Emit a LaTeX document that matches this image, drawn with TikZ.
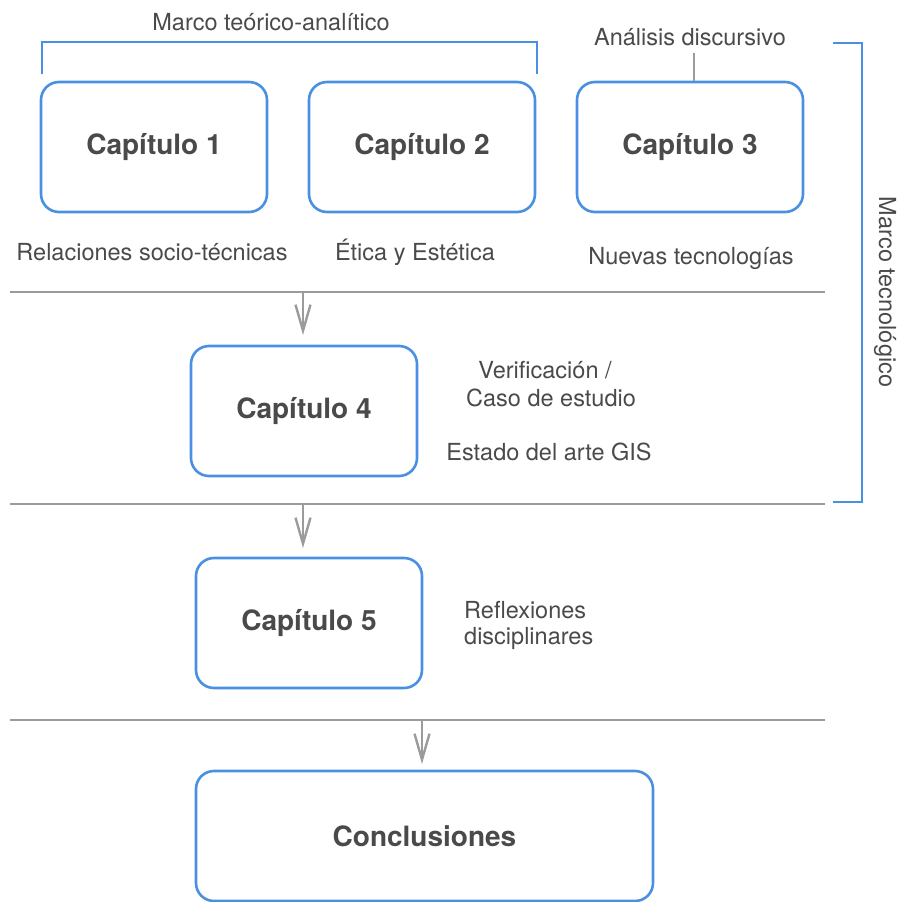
\documentclass[tikz,border=0pt]{standalone}
\usepackage{fontspec}
\setmainfont{TeX Gyre Heros}
\usetikzlibrary{arrows.meta}
\definecolor{boxblue}{HTML}{4A90E2}
\definecolor{rulegray}{HTML}{9B9B9B}
\definecolor{txt}{HTML}{4A4A4A}
\begin{document}
\begin{tikzpicture}[x=1pt,y=-1pt,
  chap/.style={draw=boxblue,line width=2.6pt,rounded corners=18pt,minimum width=226pt,minimum height=130pt,
    text=txt,font=\fontsize{28}{32}\selectfont\bfseries,inner sep=0pt},
  note/.style={text=txt,font=\fontsize{23.5}{28}\selectfont,inner sep=0pt},
  brace/.style={draw=boxblue,line width=2.6pt},
  divider/.style={draw=rulegray,line width=2.4pt},
  flow/.style={draw=rulegray,line width=2.4pt,-{Straight Barb[length=26pt,width=15pt,line width=2.4pt]}}]
\useasboundingbox (0,0) rectangle (901,902);

% chapter boxes
\node[chap] (c1) at (154,147) {Capítulo 1};
\node[chap] (c2) at (422,147) {Capítulo 2};
\node[chap] (c3) at (690,147) {Capítulo 3};
\node[chap] (c4) at (304,411) {Capítulo 4};
\node[chap] (c5) at (309,623) {Capítulo 5};
\node[chap,minimum width=457pt] (cc) at (424.5,836) {Conclusiones};

% theoretical frame bracket
\coordinate (tl) at (42,74);
\coordinate (tr) at (537,74);
\draw[brace] (tl) -- (42,42) -- (537,42) -- (tr);
\node[note] (mta) at (271,22) {Marco teórico-analítico};

% discourse analysis label
\node[note] (ad) at (690,37) {Análisis discursivo};
\coordinate (adl) at (694,53);
\draw[divider] (adl) -- (c3.north -| adl);

% technological frame bracket
\coordinate (rt) at (833,43);
\coordinate (rb) at (833,502);
\draw[brace] (rt) -- (862,43) -- (862,502) -- (rb);
\node[note,rotate=-90] (mtec) at (885,292) {Marco tecnológico};

% captions
\node[note] (l1) at (152,252) {Relaciones socio-técnicas};
\node[note] (l2) at (415,252) {Ética y Estética};
\node[note] (l3) at (691,258) {Nuevas tecnologías};
\node[note] (l4a) at (545,370) {Verificación /};
\node[note] (l4b) at (551,398) {Caso de estudio};
\node[note] (l4c) at (549,452) {Estado del arte GIS};
\node[note,anchor=west] (l5a) at (464,610) {Reflexiones};
\node[note,anchor=west] (l5b) at (464,638) {disciplinares};

% dividers
\coordinate (d1a) at (10,292); \coordinate (d1b) at (825,292);
\coordinate (d2a) at (10,504); \coordinate (d2b) at (825,504);
\coordinate (d3a) at (10,720); \coordinate (d3b) at (825,720);
\draw[divider] (d1a) -- (d1b);
\draw[divider] (d2a) -- (d2b);
\draw[divider] (d3a) -- (d3b);

% flow arrows
\coordinate (a1) at (303,292);
\coordinate (a2) at (303,504);
\coordinate (a3) at (422,720);
\draw[flow] (a1) -- (303,335);
\draw[flow] (a2) -- (303,548);
\draw[flow] (a3) -- (422,764);
\end{tikzpicture}
\end{document}
